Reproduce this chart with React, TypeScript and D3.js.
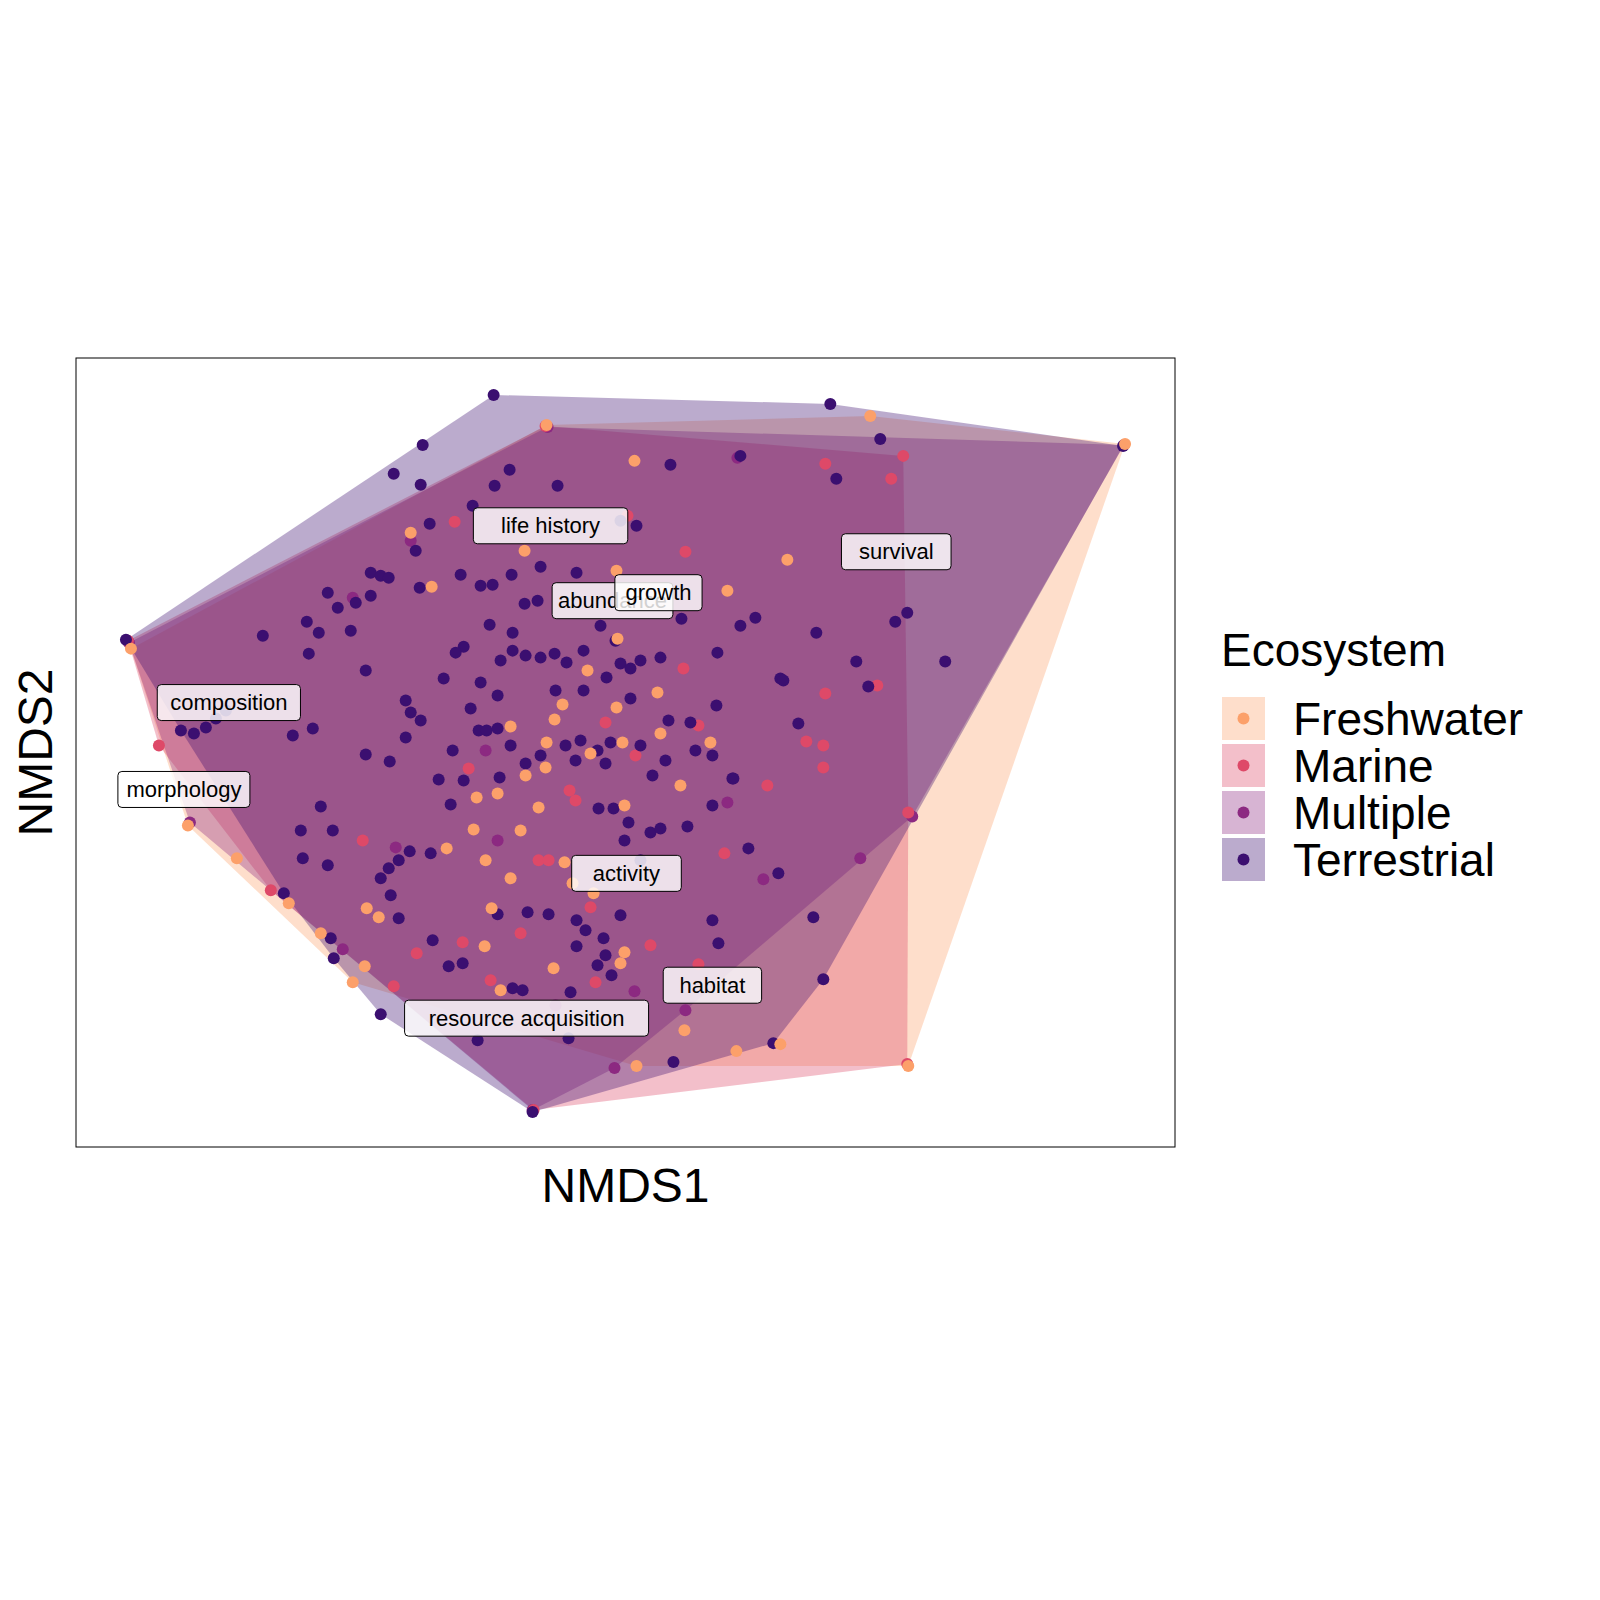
import React from 'react';
import * as d3 from 'd3';

type Pt = [number, number];

const groups = ['Freshwater', 'Marine', 'Multiple', 'Terrestrial'];
const colors = ['#FCA06A', '#DE4968', '#8C2981', '#3B0F70'];

// NMDS scores (x1000)
const freshwater: Pt[] = [
  [-79, 328], [245, 337], [500, 309], [9, 292], [-215, 220], [-101, 202], [-194, 166], [-9, 182], [102, 162], [162, 193],
  [-495, 104], [-8, 114], [-38, 82], [32, 60], [-9, 45], [-63, 48], [-71, 33], [-115, 26], [-79, 10], [35, 19],
  [85, 10], [-35, -1], [-3, 10], [-80, -15], [-100, -23], [55, -33], [-128, -41], [-149, -45], [-87, -55], [-1, -53],
  [-105, -78], [-152, -77], [-179, -96], [-140, -108], [-61, -110], [-53, -131], [-115, -126], [-438, -73], [-389, -106], [-337, -151],
  [-305, -181], [-259, -156], [-247, -165], [-273, -230], [-261, -214], [-141, -194], [-134, -156], [-72, -216], [-1, -200], [-5, -211],
  [-125, -238], [59, -278], [11, -314], [111, -299], [155, -292], [283, -314], [-32, -141],
];
const marine: Pt[] = [
  [-467, 7], [-171, 231], [2, 237], [60, 201], [200, 289], [266, 274], [278, 297], [58, 84], [-20, 30], [73, 27],
  [200, 59], [252, 67], [181, 11], [198, 7], [198, -15], [142, -33], [-157, -16], [-56, -38], [-50, -48], [-263, -88],
  [-87, -108], [-77, -108], [-355, -138], [-35, -155], [-105, -181], [-163, -190], [25, -193], [-232, -234], [-209, -201], [-135, -228],
  [-30, -230], [73, -212], [99, -101], [10, -3], [-80, 327], [283, -60], [282, -312], [-92, -358], [-498, 112],
];
const multiple: Pt[] = [
  [112, 295], [-273, 155], [-140, 2], [-128, -88], [-230, -95], [102, -50], [138, -127], [235, -106], [287, -64], [-283, -197],
  [9, -239], [-11, -316], [-70, -253], [60, -258], [-215, 212], [499, 308], [-78, 326], [-497, 110], [-436, -70], [-93, -358],
];
const terrestrial: Pt[] = [
  [-132, 358], [205, 349], [255, 314], [-203, 308], [-232, 279], [-205, 268], [-116, 283], [-131, 267], [-68, 267], [45, 288],
  [211, 274], [115, 297], [11, 227], [-5, 232], [-153, 247], [-196, 229], [-210, 202], [-500, 113], [-363, 117], [-319, 131],
  [-307, 120], [-288, 145], [-270, 150], [-298, 160], [-255, 180], [-245, 177], [-275, 122], [-317, 99], [-260, 82], [-165, 178],
  [-145, 167], [-133, 168], [-114, 178], [-85, 186], [-49, 180], [-101, 149], [-88, 152], [-206, 165], [-237, 175], [-255, 157],
  [-136, 128], [-113, 120], [-162, 106], [-170, 100], [-125, 92], [-113, 102], [-100, 97], [-85, 95], [-71, 99], [-59, 90],
  [-42, 102], [-25, 127], [-10, 112], [-5, 89], [5, 84], [15, 92], [35, 95], [56, 134], [115, 127], [130, 135],
  [92, 100], [155, 74], [191, 120], [231, 91], [243, 66], [270, 131], [282, 140], [320, 91], [-182, 74], [-145, 70],
  [-128, 57], [-70, 62], [-42, 62], [-19, 75], [5, 54], [43, 32], [65, 30], [91, 47], [-220, 52], [-215, 40],
  [-205, 32], [-445, 22], [-432, 19], [-420, 25], [-410, 34], [-400, 42], [-333, 17], [-313, 24], [-220, 15], [-173, 2],
  [-147, 22], [-139, 22], [-115, 7], [-100, -11], [-85, -3], [-60, 7], [-45, 12], [-28, 2], [-15, 10], [-50, -8],
  [-20, -11], [15, 7], [27, -23], [40, -8], [70, 2], [87, -3], [107, -26], [173, 29], [158, 72], [-260, -2],
  [-236, -9], [-187, -27], [-162, -28], [-126, -25], [-175, -52], [-305, -54], [-325, -78], [-293, -78], [-323, -106], [-298, -113],
  [-245, -126], [-237, -116], [-227, -108], [-216, -99], [-235, -143], [-195, -101], [-27, -56], [-12, -56], [3, -70], [25, -80],
  [35, -76], [62, -74], [-1, -88], [15, -108], [108, -26], [87, -53], [123, -96], [153, -121], [-5, -163], [-49, -168],
  [-40, -178], [-22, -186], [-49, -194], [-20, -203], [-28, -213], [-14, -223], [-128, -162], [-98, -160], [-77, -162], [-193, -188],
  [-177, -214], [-163, -211], [-227, -166], [87, -168], [93, -191], [188, -165], [198, -227], [148, -291], [48, -310], [-57, -286],
  [-148, -288], [-245, -262], [-93, -360], [-342, -141], [-295, -186], [-292, -206], [-113, -236], [-103, -238], [-55, -240], [-155, 44],
  [-128, 24], [498, 307],
];
const series = [freshwater, marine, multiple, terrestrial];
const drawOrder = [2, 1, 3, 0];

const traitLabels = ['life history', 'abundance', 'growth', 'survival', 'composition', 'morphology', 'activity', 'habitat', 'resource acquisition'];
const traitScores: Pt[] = [[-75, 227], [-13, 152], [33, 160], [271, 201], [-397, 50], [-442, -37], [1, -121], [87, -233], [-99, -266]];

const left = 76, right = 1175, top = 358, bottom = 1147;
const font = 'Arial, "Liberation Sans", sans-serif';

const TraitLabel = ({ text, x, y }: { text: string; x: number; y: number }) => {
  const w = text.length * 11.2 + 20;
  return (
    <g transform={`translate(${x},${y})`}>
      <rect x={-w / 2} y={-18} width={w} height={36} rx={4} fill="#ffffff" fillOpacity={0.82} stroke="#000" strokeWidth={1} />
      <text textAnchor="middle" dy="0.35em" fontSize={22} fontFamily={font}>{text}</text>
    </g>
  );
};

export default function App() {
  const x = d3.scaleLinear().domain([-550, 550]).range([left, right]);
  const y = d3.scaleLinear().domain([-395, 395]).range([bottom, top]);
  const line = d3.line<Pt>().x((d) => x(d[0])).y((d) => y(d[1]));
  const hulls = series.map((s) => d3.polygonHull(s) as Pt[]);
  return (
    <svg width={1600} height={1600} style={{ display: 'block', margin: -8 }}>
      <rect width={1600} height={1600} fill="#fff" />
      {hulls.map((h, i) => (
        <path key={i} d={line(h) + 'Z'} fill={colors[i]} fillOpacity={0.35} />
      ))}
      {drawOrder.map((i) =>
        series[i].map((p, j) => <circle key={`${i}-${j}`} cx={x(p[0])} cy={y(p[1])} r={6} fill={colors[i]} />)
      )}
      {traitLabels.map((t, i) => (
        <TraitLabel key={t} text={t} x={x(traitScores[i][0])} y={y(traitScores[i][1])} />
      ))}
      <rect x={left} y={top} width={right - left} height={bottom - top} fill="none" stroke="#000" strokeWidth={1} />
      <text x={(left + right) / 2} y={1202} textAnchor="middle" fontSize={48} fontFamily={font}>NMDS1</text>
      <text transform={`translate(52,${(top + bottom) / 2}) rotate(-90)`} textAnchor="middle" fontSize={48} fontFamily={font}>NMDS2</text>
      <text x={1221} y={666} fontSize={46} fontFamily={font}>Ecosystem</text>
      {groups.map((g, i) => (
        <g key={g} transform={`translate(1222,${697 + i * 47})`}>
          <rect width={43} height={43} fill={colors[i]} fillOpacity={0.35} />
          <circle cx={21.5} cy={21.5} r={6} fill={colors[i]} />
          <text x={71} y={21.5} dy="0.36em" fontSize={46} fontFamily={font}>{g}</text>
        </g>
      ))}
    </svg>
  );
}
